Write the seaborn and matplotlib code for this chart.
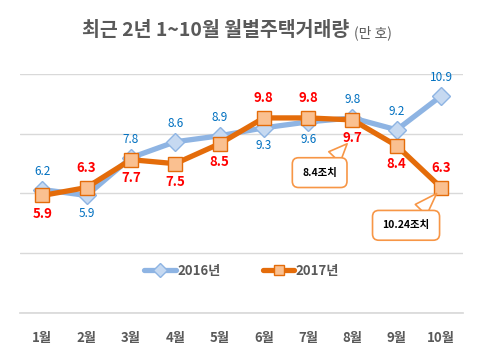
import matplotlib
matplotlib.use("Agg")
import matplotlib.pyplot as plt
import seaborn as sns
import pandas as pd

months = ["1월", "2월", "3월", "4월", "5월", "6월", "7월", "8월", "9월", "10월"]
v2016 = [6.2, 5.9, 7.8, 8.6, 8.9, 9.3, 9.6, 9.8, 9.2, 10.9]
v2017 = [5.9, 6.3, 7.7, 7.5, 8.5, 9.8, 9.8, 9.7, 8.4, 6.3]
pos2016 = ["above", "below", "above", "above", "above", "below", "below", "above", "above", "above"]
pos2017 = ["below", "above", "below", "below", "below", "above", "above", "below", "below", "above"]
series = ["2016년", "2017년"]
callouts = [(7, "8.4조치"), (9, "10.24조치")]

sns.set_theme(style="white")
plt.rcParams['font.family'] = ['Noto Sans CJK KR', 'DejaVu Sans']

df = pd.DataFrame({
    "month": months * 2,
    "value": v2016 + v2017,
    "year": [series[0]] * len(months) + [series[1]] * len(months),
})

fig = plt.figure(figsize=(4.8, 3.6), dpi=100)
ax = fig.add_axes([0.042, 0.131, 0.923, 0.663])

styles = {
    series[0]: dict(color="#8EB4E3", marker="D", ms=9.5, mfc="#C6D9F1", mec="#8EB4E3", lw=3.8, zorder=3),
    series[1]: dict(color="#E46C0A", marker="s", ms=9.5, mfc="#FAC090", mec="#E46C0A", lw=3.8, zorder=4),
}
for yr in series:
    st = styles[yr]
    sns.lineplot(data=df[df.year == yr], x="month", y="value", ax=ax, sort=False,
                 color=st["color"], marker=st["marker"], markersize=st["ms"],
                 markerfacecolor=st["mfc"], markeredgecolor=st["mec"], markeredgewidth=1,
                 linewidth=st["lw"], zorder=st["zorder"], label=yr)

ax.set_ylim(0, 12)
ax.set_xlim(-0.5, len(months) - 0.5)
ax.set_yticks([0, 3, 6, 9, 12])
ax.set_yticklabels([])
ax.yaxis.grid(True, color="#D9D9D9", lw=1)
ax.xaxis.grid(False)
for s in ["top", "left", "right"]:
    ax.spines[s].set_visible(False)
ax.spines["bottom"].set_color("#D9D9D9")
ax.tick_params(axis="both", length=0)
ax.set_xlabel("")
ax.set_ylabel("")
ax.set_xticks(range(len(months)))
ax.set_xticklabels(months, fontsize=9.5, fontweight="bold", color="#595959")
ax.tick_params(axis="x", pad=13)

for i, (v, p) in enumerate(zip(v2016, pos2016)):
    off = 13 if p == "above" else -13
    ax.annotate(f"{v}", (i, v), xytext=(0, off), textcoords="offset points",
                ha="center", va="center", fontsize=8.5, color="#0070C0", zorder=6)
for i, (v, p) in enumerate(zip(v2017, pos2017)):
    off = 14 if p == "above" else -13
    ax.annotate(f"{v}", (i, v), xytext=(0, off), textcoords="offset points",
                ha="center", va="center", fontsize=9.5, fontweight="bold", color="#FF0000", zorder=6)

# callouts
tips = [(callouts[0][0] - 0.12, v2017[7] - 1.2), (callouts[1][0] - 0.1, v2017[9] - 0.3)]
boxes = [(callouts[0][0] - 0.74, 7.05), (callouts[1][0] - 0.79, 4.4)]
for (idx, txt), tip, bx in zip(callouts, tips, boxes):
    ax.annotate(txt, xy=tip, xytext=bx, ha="center", va="center",
                fontsize=7.5, fontweight="bold", color="black", zorder=7,
                bbox=dict(boxstyle="round,pad=0.95,rounding_size=0.6", fc="white", ec="#F79646", lw=1.2),
                arrowprops=dict(arrowstyle="wedge,tail_width=1.5,shrink_factor=0.5", fc="white",
                                ec="#F79646", lw=1.2, shrinkA=0, shrinkB=0))

leg = ax.legend(loc="center", bbox_to_anchor=(0.5, 0.175), ncol=2, frameon=False,
                handlelength=2.4, columnspacing=3.2, handletextpad=0.1, markerscale=0.8,
                prop={"size": 9.5, "weight": "bold"})
for t in leg.get_texts():
    t.set_color("#595959")

fig.text(0.727, 0.915, "최근 2년 1~10월 월별주택거래량", ha="right", va="center",
         fontsize=14, fontweight="bold", color="#595959")
fig.text(0.738, 0.91, "(만 호)", ha="left", va="center", fontsize=10, color="#595959")

fig.savefig("out.png", dpi=100)
